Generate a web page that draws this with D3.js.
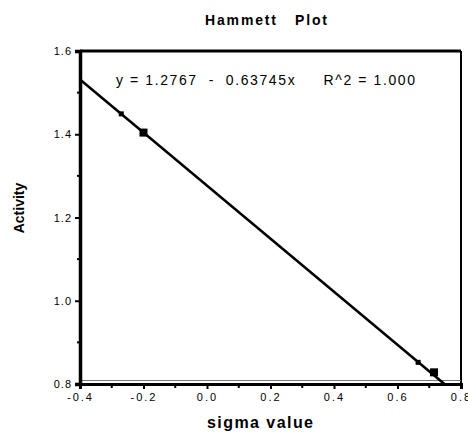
<!DOCTYPE html>
<html>
<head>
<meta charset="utf-8">
<script src="https://cdn.jsdelivr.net/npm/d3@7"></script>
<style>
  body { margin: 0; background: #fff; }
  text { font-family: "Liberation Sans", Arial, sans-serif; fill: #000; }
</style>
</head>
<body>
<script>
// data
var sigma = [-0.27, -0.20, 0.665, 0.715];
var activity = [1.449, 1.404, 0.852, 0.828];
var markerSize = [5, 8, 5, 8];
var fitIntercept = 1.2767, fitSlope = -0.63745;
var xTicks = [-0.4, -0.2, 0.0, 0.2, 0.4, 0.6, 0.8];
var yTicks = [0.8, 1.0, 1.2, 1.4, 1.6];

var width = 468, height = 434;
var pLeft = 80, pRight = 461, pTop = 51, pBottom = 384;

var svg = d3.select("body").append("svg")
  .attr("width", width).attr("height", height);

var x = d3.scaleLinear().domain([-0.4, 0.8]).range([pLeft, pRight]);
var y = d3.scaleLinear().domain([0.8, 1.6]).range([pBottom, pTop]);

// frame
svg.append("line").attr("x1", pLeft).attr("x2", pRight).attr("y1", pTop).attr("y2", pTop)
  .attr("stroke", "#000").attr("stroke-width", 3);
svg.append("line").attr("x1", pRight).attr("x2", pRight).attr("y1", pTop).attr("y2", pBottom)
  .attr("stroke", "#000").attr("stroke-width", 2);
svg.append("line").attr("x1", pLeft).attr("x2", pRight).attr("y1", pBottom - 3.5).attr("y2", pBottom - 3.5)
  .attr("stroke", "#777").attr("stroke-width", 1);

// x axis
var xAxis = d3.axisBottom(x).tickValues(xTicks).tickSize(5).tickPadding(4);
var gx = svg.append("g").attr("transform", "translate(0," + pBottom + ")").call(xAxis);
gx.select(".domain").attr("stroke-width", 3);
gx.selectAll(".tick line").attr("stroke-width", 2);
gx.selectAll(".tick text").attr("font-size", 11).attr("font-family", "Liberation Sans, Arial, sans-serif")
  .attr("letter-spacing", 2)
  .text(function(d){ return d3.format(".1f")(d).replace("\u2212", "-"); });

var xMinor = [-0.3, -0.1, 0.1, 0.3, 0.5, 0.7];
svg.append("g").selectAll("line").data(xMinor).enter().append("line")
  .attr("x1", function(d){ return x(d); }).attr("x2", function(d){ return x(d); })
  .attr("y1", pBottom).attr("y2", pBottom + 4)
  .attr("stroke", "#000").attr("stroke-width", 2);

// y axis
var yAxis = d3.axisLeft(y).tickValues(yTicks).tickSize(5).tickPadding(3)
  .tickFormat(d3.format(".1f"));
var gy = svg.append("g").attr("transform", "translate(" + pLeft + ",0)").call(yAxis);
gy.select(".domain").attr("stroke-width", 3.5);
gy.selectAll(".tick line").attr("stroke-width", 2);
gy.selectAll(".tick text").attr("font-size", 11).attr("font-family", "Liberation Sans, Arial, sans-serif")
  .attr("letter-spacing", 1);

var yMinor = [0.9, 1.1, 1.3, 1.5];
svg.append("g").selectAll("line").data(yMinor).enter().append("line")
  .attr("x1", pLeft - 3).attr("x2", pLeft)
  .attr("y1", function(d){ return y(d); }).attr("y2", function(d){ return y(d); })
  .attr("stroke", "#000").attr("stroke-width", 2);

// fit line, stopped at the bottom of the frame
var xEnd = (0.8 - fitIntercept) / fitSlope;
svg.append("line")
  .attr("x1", x(-0.4)).attr("y1", y(fitIntercept + fitSlope * -0.4))
  .attr("x2", x(xEnd)).attr("y2", y(0.8))
  .attr("stroke", "#000").attr("stroke-width", 2.5);

// points
svg.append("g").selectAll("rect").data(sigma).enter().append("rect")
  .attr("x", function(d, i){ return x(d) - markerSize[i] / 2; })
  .attr("y", function(d, i){ return y(activity[i]) - markerSize[i] / 2; })
  .attr("width", function(d, i){ return markerSize[i]; })
  .attr("height", function(d, i){ return markerSize[i]; })
  .attr("fill", "#000");

// texts
svg.append("text").attr("x", 205).attr("y", 25)
  .attr("font-size", 14).attr("font-weight", "bold").attr("xml:space", "preserve")
  .attr("textLength", 122).attr("lengthAdjust", "spacing")
  .text("Hammett   Plot");

svg.append("text").attr("x", 116).attr("y", 85).attr("font-size", 14)
  .attr("xml:space", "preserve")
  .attr("textLength", 299).attr("lengthAdjust", "spacing")
  .text("y = 1.2767  -  0.63745x     R^2 = 1.000");

svg.append("text").attr("x", 207).attr("y", 428)
  .attr("font-size", 16).attr("font-weight", "bold")
  .attr("textLength", 106).attr("lengthAdjust", "spacing")
  .text("sigma value");

svg.append("text").attr("transform", "translate(24,208) rotate(-90)")
  .attr("text-anchor", "middle").attr("font-size", 14).attr("font-weight", "bold")
  .text("Activity");
</script>
</body>
</html>
